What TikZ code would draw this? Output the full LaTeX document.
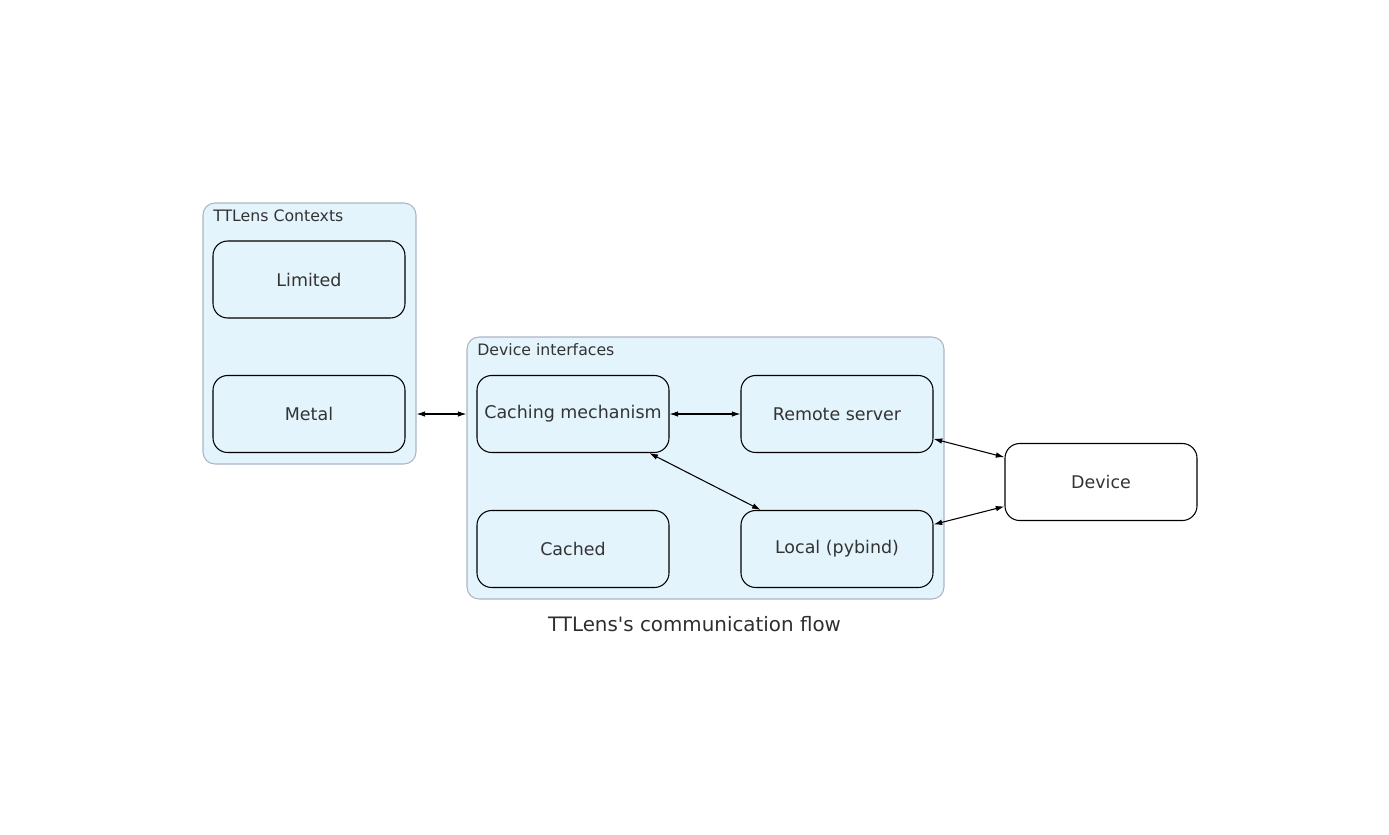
\documentclass[tikz,border=0pt]{standalone}
\usepackage{fontspec}
\setmainfont{DejaVu Sans}
\usetikzlibrary{arrows.meta}

\definecolor{boxblue}{HTML}{E3F4FC}
\definecolor{clusterline}{HTML}{ABB6C2}
\definecolor{labelgray}{HTML}{333333}

\begin{document}
\begin{tikzpicture}[x=0.75pt,y=-0.75pt]
\tikzstyle{every node}+=[inner sep=0pt, text=labelgray]
\tikzstyle{cluster}=[draw=clusterline, fill=boxblue, line width=0.8pt, rounded corners=9pt]
\tikzstyle{block}=[draw=black, fill=boxblue, line width=0.8pt, rounded corners=11pt,
  minimum width=144pt, minimum height=57.75pt, font=\fontsize{13.1}{15}\selectfont]
\tikzstyle{link}=[black, line width=0.8pt, {Latex[length=6.5pt,width=4.2pt]}-{Latex[length=6.5pt,width=4.2pt]}]
\useasboundingbox (0,0) rectangle (1389,835);
% clusters
\node [cluster, minimum width=159.75pt, minimum height=195.75pt] (ctx) at (309.5,333.5) {};
\node [anchor=west, font=\fontsize{11.8}{14}\selectfont] (ctxlabel) at (213,216) {TTLens Contexts};
\node [cluster, minimum width=357.75pt, minimum height=196.5pt] (ifc) at (705.5,468) {};
\node [anchor=west, font=\fontsize{11.8}{14}\selectfont] (ifclabel) at (477,350) {Device interfaces};
% blocks
\node [block] (limited) at (309,279.5) {Limited};
\node [block] (metal) at (309,414) {Metal};
\node [block] (caching) at (573,414) {Caching mechanism};
\node [block] (remote) at (837,414) {Remote server};
\node [block] (cached) at (573,549) {Cached};
\node [block] (local) at (837,549) {Local (pybind)};
\node [block, fill=white] (device) at (1101,482) {Device};
% links
\draw [link] (ctx.east |- metal) -- (ifc.west |- metal);
\draw [link] (caching) -- (remote);
\draw [link] (caching) -- (local);
\draw [link] (remote) -- (device);
\draw [link] (local) -- (device);
% title
\node [font=\fontsize{14.9}{18}\selectfont, text=labelgray!90!black] (title) at (694.5,624) {TTLens\textquotesingle s communication flow};
\end{tikzpicture}
\end{document}
